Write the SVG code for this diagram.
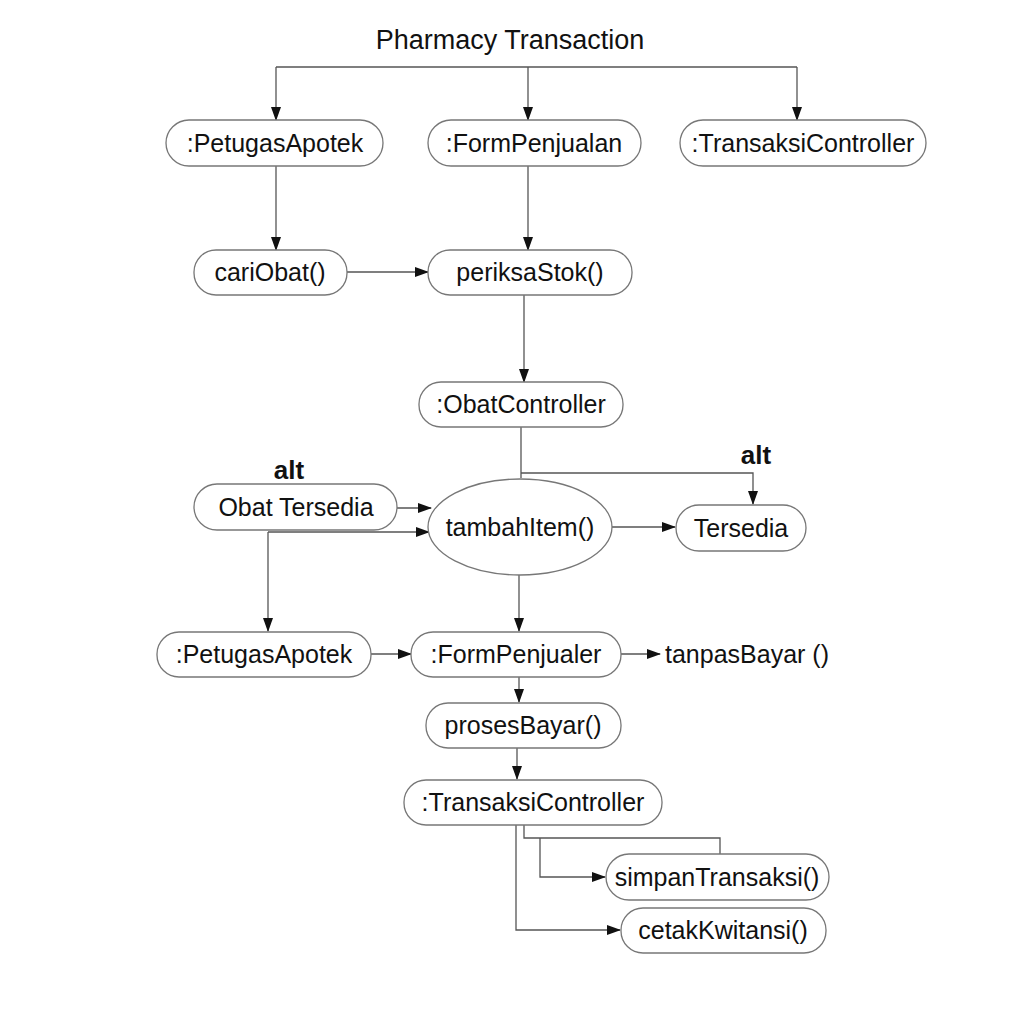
<svg xmlns="http://www.w3.org/2000/svg" width="1024" height="1024" viewBox="0 0 1024 1024">
<defs>
<marker id="ah" markerWidth="14" markerHeight="10" refX="13" refY="5" orient="auto" markerUnits="userSpaceOnUse">
<path d="M0,0 L14,5 L0,10 Z" fill="#111"/>
</marker>
<style>
.n{fill:#fff;stroke:#777;stroke-width:1.3}
.t{font-family:"Liberation Sans",Arial,sans-serif;font-size:25px;fill:#111;text-anchor:middle;dominant-baseline:central}
.c{fill:none;stroke:#555;stroke-width:1.3}
.a{marker-end:url(#ah)}
.b{font-family:"Liberation Sans",Arial,sans-serif;font-size:26px;font-weight:bold;fill:#111;text-anchor:middle}
</style>
</defs>
<rect width="1024" height="1024" fill="#fff"/>
<text x="510" y="49" font-family="Liberation Sans, Arial, sans-serif" font-size="27" fill="#111" text-anchor="middle">Pharmacy Transaction</text>
<text class="b" x="289" y="479">alt</text>
<text class="b" x="756" y="464">alt</text>
<g id="connectors">
<path class="c" d="M276,67 H797"/>
<path class="c a" d="M276,67 V120"/>
<path class="c a" d="M528,67 V120"/>
<path class="c a" d="M797,67 V120"/>
<path class="c a" d="M276,166 V250"/>
<path class="c a" d="M528,166 V250"/>
<path class="c a" d="M347,272 H428"/>
<path class="c a" d="M524,295 V382"/>
<path class="c" d="M521,427 V478"/>
<path class="c a" d="M521,473 H753 V504"/>
<path class="c a" d="M397,508 H431"/>
<path class="c a" d="M268,532 H429"/>
<path class="c a" d="M268,532 V631"/>
<path class="c a" d="M612,527 H675"/>
<path class="c a" d="M519,575 V631"/>
<path class="c a" d="M371,654 H411"/>
<path class="c a" d="M621,654 H660"/>
<path class="c a" d="M519,677 V702"/>
<path class="c a" d="M517,748 V779"/>
<path class="c" d="M524,825 V838 H720 V854"/>
<path class="c a" d="M540,838 V877 H605"/>
<path class="c a" d="M516,825 V930 H620"/>
</g>
<g id="n1"><rect class="n" x="166" y="120" width="217" height="46" rx="23"/><text class="t" x="275" y="143">:PetugasApotek</text></g>
<g id="n2"><rect class="n" x="428" y="120" width="213" height="46" rx="23"/><text class="t" x="534" y="143">:FormPenjualan</text></g>
<g id="n3"><rect class="n" x="680" y="120" width="246" height="46" rx="23"/><text class="t" x="803" y="143">:TransaksiController</text></g>
<g id="n4"><rect class="n" x="194" y="250" width="153" height="45" rx="22"/><text class="t" x="270" y="272">cariObat()</text></g>
<g id="n5"><rect class="n" x="428" y="250" width="204" height="45" rx="22"/><text class="t" x="530" y="272">periksaStok()</text></g>
<g id="n6"><rect class="n" x="419" y="382" width="204" height="45" rx="22"/><text class="t" x="521" y="404">:ObatController</text></g>
<g id="n7"><rect class="n" x="194" y="484" width="203" height="46" rx="23"/><text class="t" x="296" y="507">Obat Tersedia</text></g>
<g id="n8"><ellipse class="n" cx="520" cy="527" rx="92" ry="48"/><text class="t" x="520" y="527">tambahItem()</text></g>
<g id="n9"><rect class="n" x="676" y="505" width="130" height="46" rx="23"/><text class="t" x="741" y="528">Tersedia</text></g>
<g id="n10"><rect class="n" x="157" y="632" width="214" height="45" rx="22"/><text class="t" x="264" y="654">:PetugasApotek</text></g>
<g id="n11"><rect class="n" x="411" y="632" width="210" height="45" rx="22"/><text class="t" x="516" y="654">:FormPenjualer</text></g>
<g id="n12"><text class="t" x="747" y="654">tanpasBayar ()</text></g>
<g id="n13"><rect class="n" x="426" y="703" width="195" height="45" rx="22"/><text class="t" x="523" y="725">prosesBayar()</text></g>
<g id="n14"><rect class="n" x="404" y="780" width="258" height="45" rx="22"/><text class="t" x="533" y="802">:TransaksiController</text></g>
<g id="n15"><rect class="n" x="606" y="854" width="223" height="46" rx="23"/><text class="t" x="717" y="877">simpanTransaksi()</text></g>
<g id="n16"><rect class="n" x="621" y="908" width="205" height="45" rx="22"/><text class="t" x="723" y="930">cetakKwitansi()</text></g>
</svg>
